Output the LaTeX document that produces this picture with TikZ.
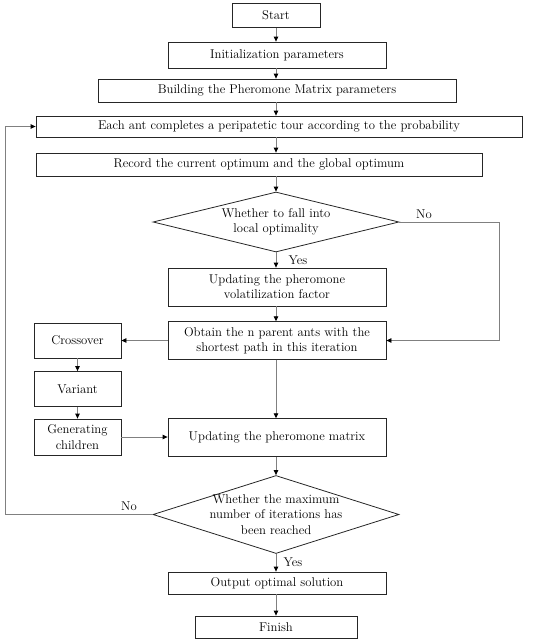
\documentclass[tikz,border=0pt]{standalone}
\usetikzlibrary{arrows.meta,shapes.geometric,calc}
\begin{document}
\begin{tikzpicture}[x=1pt,y=-1pt,
  box/.style={draw=black!85,line width=0.8pt,inner sep=0pt,align=center,font=\fontsize{12.7}{15.3}\selectfont,text=black},
  dia/.style={draw=black!85,line width=0.8pt,shape=diamond,inner sep=0pt},
  lbl/.style={inner sep=0pt,align=center,font=\fontsize{12.7}{15.3}\selectfont,text=black},
  conn/.style={draw=black!50,line width=0.8pt,-{Triangle[length=5pt,width=4.5pt,color=black]}},
  line/.style={draw=black!50,line width=0.8pt}]
\useasboundingbox (0,0) rectangle (550,643);
\node[box,minimum width=88pt,minimum height=24.5pt] (start) at (276,15.5) {Start};
\node[box,minimum width=218pt,minimum height=26pt] (init) at (277,55) {Initialization parameters};
\node[box,minimum width=358pt,minimum height=23pt] (build) at (277,90.5) {Building the Pheromone Matrix parameters};
\node[box,minimum width=486pt,minimum height=21pt] (ant) at (279,126.5) {Each ant completes a peripatetic tour according to the probability};
\node[box,minimum width=446pt,minimum height=23pt] (rec) at (259,164.5) {Record the current optimum and the global optimum};
\node[dia,minimum width=246pt,minimum height=60pt] (d1) at (276,222) {};
\node[lbl] (d1t) at (276,222) {Whether to fall into\\local optimality};
\node[box,minimum width=218pt,minimum height=38pt] (vol) at (277,287) {Updating the pheromone\\volatilization factor};
\node[box,minimum width=218pt,minimum height=37.6pt] (obt) at (277,340.5) {Obtain the n parent ants with the\\shortest path in this iteration};
\node[box,minimum width=87pt,minimum height=35pt] (cross) at (77.5,340.5) {Crossover};
\node[box,minimum width=87pt,minimum height=35pt] (var) at (77.5,389) {Variant};
\node[box,minimum width=87pt,minimum height=36pt] (gen) at (77.5,437) {Generating\\children};
\node[box,minimum width=218pt,minimum height=38pt] (mat) at (277,437.7) {Updating the pheromone matrix};
\node[dia,minimum width=246pt,minimum height=78pt] (d2) at (276,514.5) {};
\node[lbl] (d2t) at (276,514.5) {Whether the maximum\\number of iterations has\\been reached};
\node[box,minimum width=218pt,minimum height=22pt] (out) at (277,583) {Output optimal solution};
\node[box,minimum width=162pt,minimum height=22pt] (fin) at (276,627) {Finish};
\coordinate (no1) at (499,222);
\coordinate (no2) at (499,340.5);
\coordinate (lp1) at (5,514.5);
\coordinate (lp2) at (5,126.5);
\node[lbl] (nol1) at (424,214) {No};
\node[lbl] (yesl1) at (298,260) {Yes};
\node[lbl] (nol2) at (129,506) {No};
\node[lbl] (yesl2) at (293,562) {Yes};
\draw[conn] (276,0 |- start.south) -- (276,0 |- init.north);
\draw[conn] (276,0 |- init.south) -- (276,0 |- build.north);
\draw[conn] (276,0 |- build.south) -- (276,0 |- ant.north);
\draw[conn] (276,0 |- ant.south) -- (276,0 |- rec.north);
\draw[conn] (276,0 |- rec.south) -- (d1.north);
\draw[conn] (d1.south) -- (276,0 |- vol.north);
\draw[conn] (276,0 |- vol.south) -- (276,0 |- obt.north);
\draw[conn] (d1.east) -- (no1) -- (no2) -- (obt.east);
\draw[conn] (obt.west) -- (cross.east);
\draw[conn] (cross.south) -- (var.north);
\draw[conn] (var.south) -- (gen.north);
\draw[conn] (gen.east) -- (gen.east -| mat.west);
\draw[conn] (276,0 |- obt.south) -- (276,0 |- mat.north);
\draw[conn] (276,0 |- mat.south) -- (d2.north);
\draw[conn] (d2.west) -- (lp1) -- (lp2) -- (ant.west);
\draw[conn] (d2.south) -- (276,0 |- out.north);
\draw[conn] (276,0 |- out.south) -- (276,0 |- fin.north);
\end{tikzpicture}
\end{document}
